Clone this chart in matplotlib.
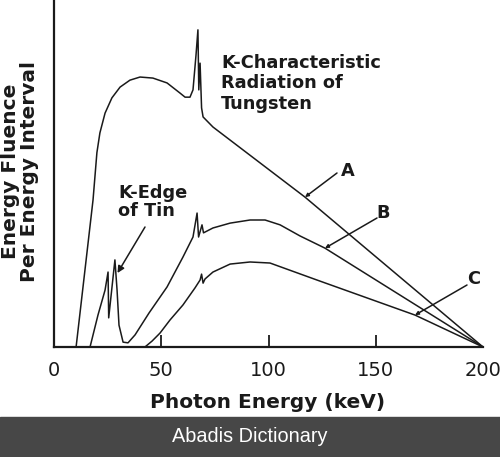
import matplotlib
matplotlib.use("Agg")
import matplotlib.pyplot as plt
from matplotlib.patches import Rectangle
import numpy as np

# Curve A, keV vs relative fluence
a_kev = [10.3, 18.2, 20.0, 21.4, 23.8, 27.0, 30.8, 35.4, 40.1, 46.1, 52.7, 58.7,
         61.1, 63.4, 64.8, 66.2, 67.1, 67.5, 68.1, 68.8, 69.5, 74.1, 117.0, 200.0]
a_flu = [0.0, 42.4, 56.0, 61.7, 67.4, 71.8, 74.9, 76.9, 77.8, 77.5, 76.1, 73.2,
         72.0, 72.0, 74.1, 84.1, 91.4, 74.1, 81.8, 68.9, 66.3, 63.4, 43.2, 0.0]

# Curve B
b_kev = [16.8, 20.5, 23.8, 25.2, 25.5, 28.4, 29.4, 30.3, 32.2, 34.5, 37.8, 44.3,
         52.7, 60.1, 64.8, 66.7, 67.4, 69.0, 69.7, 74.1, 82.1, 91.4, 98.4, 105.4,
         114.7, 126.3, 200.0]
b_flu = [0.0, 9.2, 16.4, 21.6, 8.4, 25.1, 16.4, 6.3, 1.4, 1.2, 3.5, 9.8,
         17.3, 25.9, 31.7, 38.6, 31.7, 35.2, 32.9, 34.3, 35.7, 36.6, 36.6, 35.2,
         32.0, 28.5, 0.0]

# Curve C
c_kev = [42.4, 45.7, 49.4, 54.1, 60.1, 65.7, 68.1, 68.8, 69.5, 70.4, 74.1, 82.1,
         91.4, 100.7, 122.6, 168.3, 200.0]
c_flu = [0.0, 1.7, 4.0, 7.8, 12.1, 17.0, 19.3, 21.0, 18.4, 19.6, 21.6, 23.9,
         24.5, 24.2, 19.3, 9.2, 0.0]

x_ticks = [0, 50, 100, 150, 200]
x_ticklabels = ["0", "50", "100", "150", "200"]

W, H = 500, 457
fig = plt.figure(figsize=(W / 100, H / 100), dpi=100)
ax = fig.add_axes([54 / W, 110 / H, 429 / W, 347 / H])

lc = "#1a1a1a"
for xs, ys in [(a_kev, a_flu), (b_kev, b_flu), (c_kev, c_flu)]:
    ax.plot(xs, ys, color=lc, lw=1.1, solid_joinstyle="round")

ax.set_xlim(0, 200)
ax.set_ylim(0, 100)
ax.spines["top"].set_visible(False)
ax.spines["right"].set_visible(False)
ax.spines["left"].set_linewidth(1.6)
ax.spines["bottom"].set_linewidth(1.6)
ax.spines["left"].set_color(lc)
ax.spines["bottom"].set_color(lc)
ax.set_yticks([])
ax.set_xticks(x_ticks)
ax.set_xticklabels(x_ticklabels)
ax.tick_params(axis="x", direction="in", length=9, width=1.3, pad=10,
               labelsize=14, colors=lc)
xt = ax.xaxis.get_major_ticks()
xt[0].tick1line.set_visible(False)
xt[-1].tick1line.set_visible(False)

font = "DejaVu Sans"
fig.text(268 / W, 1 - 403 / H, "Photon Energy (keV)", ha="center", va="center",
         fontsize=14.5, fontweight="bold", family=font, color=lc)
fig.text(20 / W, 1 - 171 / H, "Energy Fluence\nPer Energy Interval", rotation=90,
         ha="center", va="center", multialignment="center", linespacing=1.0,
         fontsize=14.5, fontweight="bold", family=font, color=lc)


def kx(px):
    return (px - 54) / 2.145


def fy(py):
    return (347 - py) / 3.47


ax.text(kx(221), fy(83.5), "K-Characteristic\nRadiation of\nTungsten", ha="left",
        va="center", fontsize=12.8, fontweight="bold", family=font, color=lc,
        linespacing=1.15)
ax.text(kx(118), fy(202), "K-Edge\nof Tin", ha="left", va="center", fontsize=12.8,
        fontweight="bold", family=font, color=lc, linespacing=1.05)

# K-edge arrow
ax.annotate("", xy=(kx(117.5), fy(273)), xytext=(kx(145), fy(227)),
            arrowprops=dict(arrowstyle="-|>", color=lc, lw=1.1,
                            mutation_scale=10, shrinkA=0, shrinkB=0))

pointers = [
    ("A", a_kev, a_flu, 305, 337, 173, 348, 171),
    ("B", b_kev, b_flu, 325, 377, 218, 383, 213),
    ("C", c_kev, c_flu, 415, 467, 285, 474, 279),
]
for lab, xs, ys, tpx, tailx, taily, lx, ly in pointers:
    tx = kx(tpx)
    ty = float(np.interp(tx, xs, ys))
    ax.annotate("", xy=(tx, ty), xytext=(kx(tailx), fy(taily)),
                arrowprops=dict(arrowstyle="-|>", color=lc, lw=1.1,
                                mutation_scale=5, shrinkA=0, shrinkB=0))
    ax.text(kx(lx), fy(ly), lab, ha="center", va="center", fontsize=12.8,
            fontweight="bold", family=font, color=lc)

fig.patches.append(Rectangle((0, 0), 1, 40 / H, transform=fig.transFigure,
                             color="#474747", zorder=0))
fig.text(0.5, 20 / H, "Abadis Dictionary", ha="center", va="center",
         fontsize=14.3, family="Liberation Sans", color="white")

fig.savefig("out.png", dpi=100)
